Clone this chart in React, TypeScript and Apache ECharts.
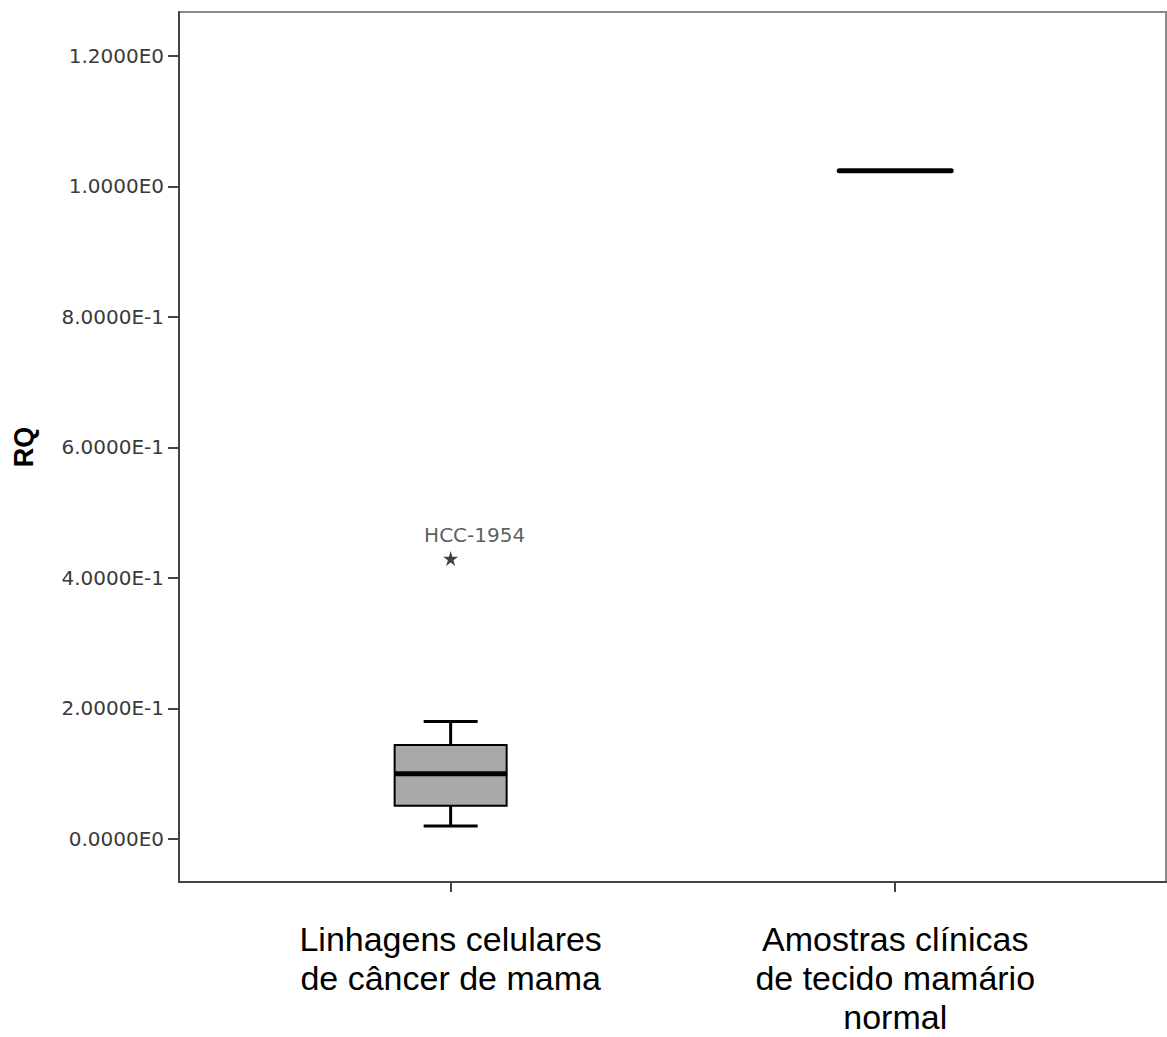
import React, { useEffect, useRef } from "react";
import * as echarts from "echarts";

// Group names shown under the x axis
const categories = [
  "Linhagens celulares\nde câncer de mama",
  "Amostras clínicas\nde tecido mamário\nnormal",
];

// Box statistics per group: [whiskerLow, Q1, median, Q3, whiskerHigh]
const boxStats = [
  [0.02, 0.051, 0.1, 0.144, 0.18],
  [1.024, 1.024, 1.024, 1.024, 1.024],
];

// Extreme value drawn as a star, with its label
const outlierGroup = [0];
const outlierValue = [0.43];
const outlierName = ["HCC-1954"];

// Y axis ticks and their scientific-notation labels
const yTicks = [0, 0.2, 0.4, 0.6, 0.8, 1.0, 1.2];
const yTickLabels = [
  "0.0000E0",
  "2.0000E-1",
  "4.0000E-1",
  "6.0000E-1",
  "8.0000E-1",
  "1.0000E0",
  "1.2000E0",
];

const STAR_PATH =
  "path://M50,0 L61,35 L98,35 L68,57 L79,91 L50,70 L21,91 L32,57 L2,35 L39,35 Z";

export default function App() {
  const ref = useRef<HTMLDivElement>(null);

  useEffect(() => {
    if (!ref.current) return;
    const chart = echarts.init(ref.current, null, { renderer: "svg" });

    const boxData = boxStats.map((s, i) => [i, ...s]);
    const outlierData = outlierValue.map((v, i) => ({
      value: [outlierGroup[i], v],
      name: outlierName[i],
    }));

    chart.setOption({
      animation: false,
      backgroundColor: "#ffffff",
      grid: {
        left: 179,
        right: 1,
        top: 12,
        bottom: 155,
        outerBoundsMode: "none",
        containLabel: false,
        show: true,
        borderColor: "#8a8a8a",
        borderWidth: 2,
        backgroundColor: "transparent",
      },
      xAxis: {
        type: "value",
        min: -0.611,
        max: 1.609,
        splitLine: { show: false },
        axisLine: { onZero: false, lineStyle: { color: "#444", width: 2 } },
        axisTick: {
          customValues: [0, 1],
          length: 10,
          lineStyle: { color: "#444", width: 2 },
        },
        axisLabel: {
          customValues: [0, 1],
          formatter: (v: number) => categories[Math.round(v)] ?? "",
          margin: 37,
          fontSize: 34,
          lineHeight: 39,
          color: "#000",
          fontFamily: "Liberation Sans, Arial, sans-serif",
        },
      },
      yAxis: {
        type: "value",
        min: -0.0659,
        max: 1.2674,
        name: "RQ",
        nameLocation: "middle",
        nameGap: 142,
        nameRotate: 90,
        nameTextStyle: {
          fontSize: 27,
          fontWeight: "bold",
          color: "#000",
          fontFamily: "Liberation Sans, Arial, sans-serif",
        },
        splitLine: { show: false },
        axisLine: { onZero: false, lineStyle: { color: "#444", width: 2 } },
        axisTick: {
          customValues: yTicks,
          length: 11,
          lineStyle: { color: "#444", width: 2 },
        },
        axisLabel: {
          customValues: yTicks,
          formatter: (v: number) => yTickLabels[Math.round(v / 0.2)] ?? "",
          margin: 15,
          fontSize: 20,
          color: "#3a3a3a",
          fontFamily: "DejaVu Sans, sans-serif",
        },
      },
      series: [
        {
          type: "custom",
          data: boxData,
          renderItem: (params: any, api: any) => {
            const x = api.value(0);
            const lo = api.coord([x, api.value(1)]);
            const q1 = api.coord([x, api.value(2)]);
            const med = api.coord([x, api.value(3)]);
            const q3 = api.coord([x, api.value(4)]);
            const hi = api.coord([x, api.value(5)]);
            const cx = lo[0];
            const halfBox = 56;
            const halfCap = 27;
            const degenerate = Math.abs(q1[1] - q3[1]) < 0.5;
            const children: any[] = [];
            if (!degenerate) {
              const wStyle = { stroke: "#000", lineWidth: 3 };
              children.push(
                { type: "line", shape: { x1: cx, y1: lo[1], x2: cx, y2: q1[1] }, style: wStyle },
                { type: "line", shape: { x1: cx, y1: q3[1], x2: cx, y2: hi[1] }, style: wStyle },
                { type: "line", shape: { x1: cx - halfCap, y1: lo[1], x2: cx + halfCap, y2: lo[1] }, style: wStyle },
                { type: "line", shape: { x1: cx - halfCap, y1: hi[1], x2: cx + halfCap, y2: hi[1] }, style: wStyle },
                {
                  type: "rect",
                  shape: { x: cx - halfBox, y: q3[1], width: halfBox * 2, height: q1[1] - q3[1] },
                  style: { fill: "#a9a9a9", stroke: "#000", lineWidth: 2 },
                }
              );
            }
            children.push({
              type: "line",
              shape: { x1: cx - halfBox, y1: med[1], x2: cx + halfBox, y2: med[1] },
              style: { stroke: "#000", lineWidth: 5, lineCap: degenerate ? "round" : "butt" },
            });
            return { type: "group", children };
          },
          z: 3,
        },
        {
          type: "scatter",
          data: outlierData,
          symbol: STAR_PATH,
          symbolSize: 15,
          itemStyle: { color: "#111" },
          label: {
            show: true,
            position: "top",
            distance: 6,
            offset: [24, 0],
            formatter: (p: any) => p.name,
            fontSize: 20,
            color: "#333",
            fontFamily: "DejaVu Sans, sans-serif",
          },
          z: 4,
        },
      ],
    });

    return () => chart.dispose();
  }, []);

  return (
    <div
      ref={ref}
      style={{ position: "fixed", left: 0, top: 0, width: 1167, height: 1037, background: "#fff" }}
    />
  );
}
